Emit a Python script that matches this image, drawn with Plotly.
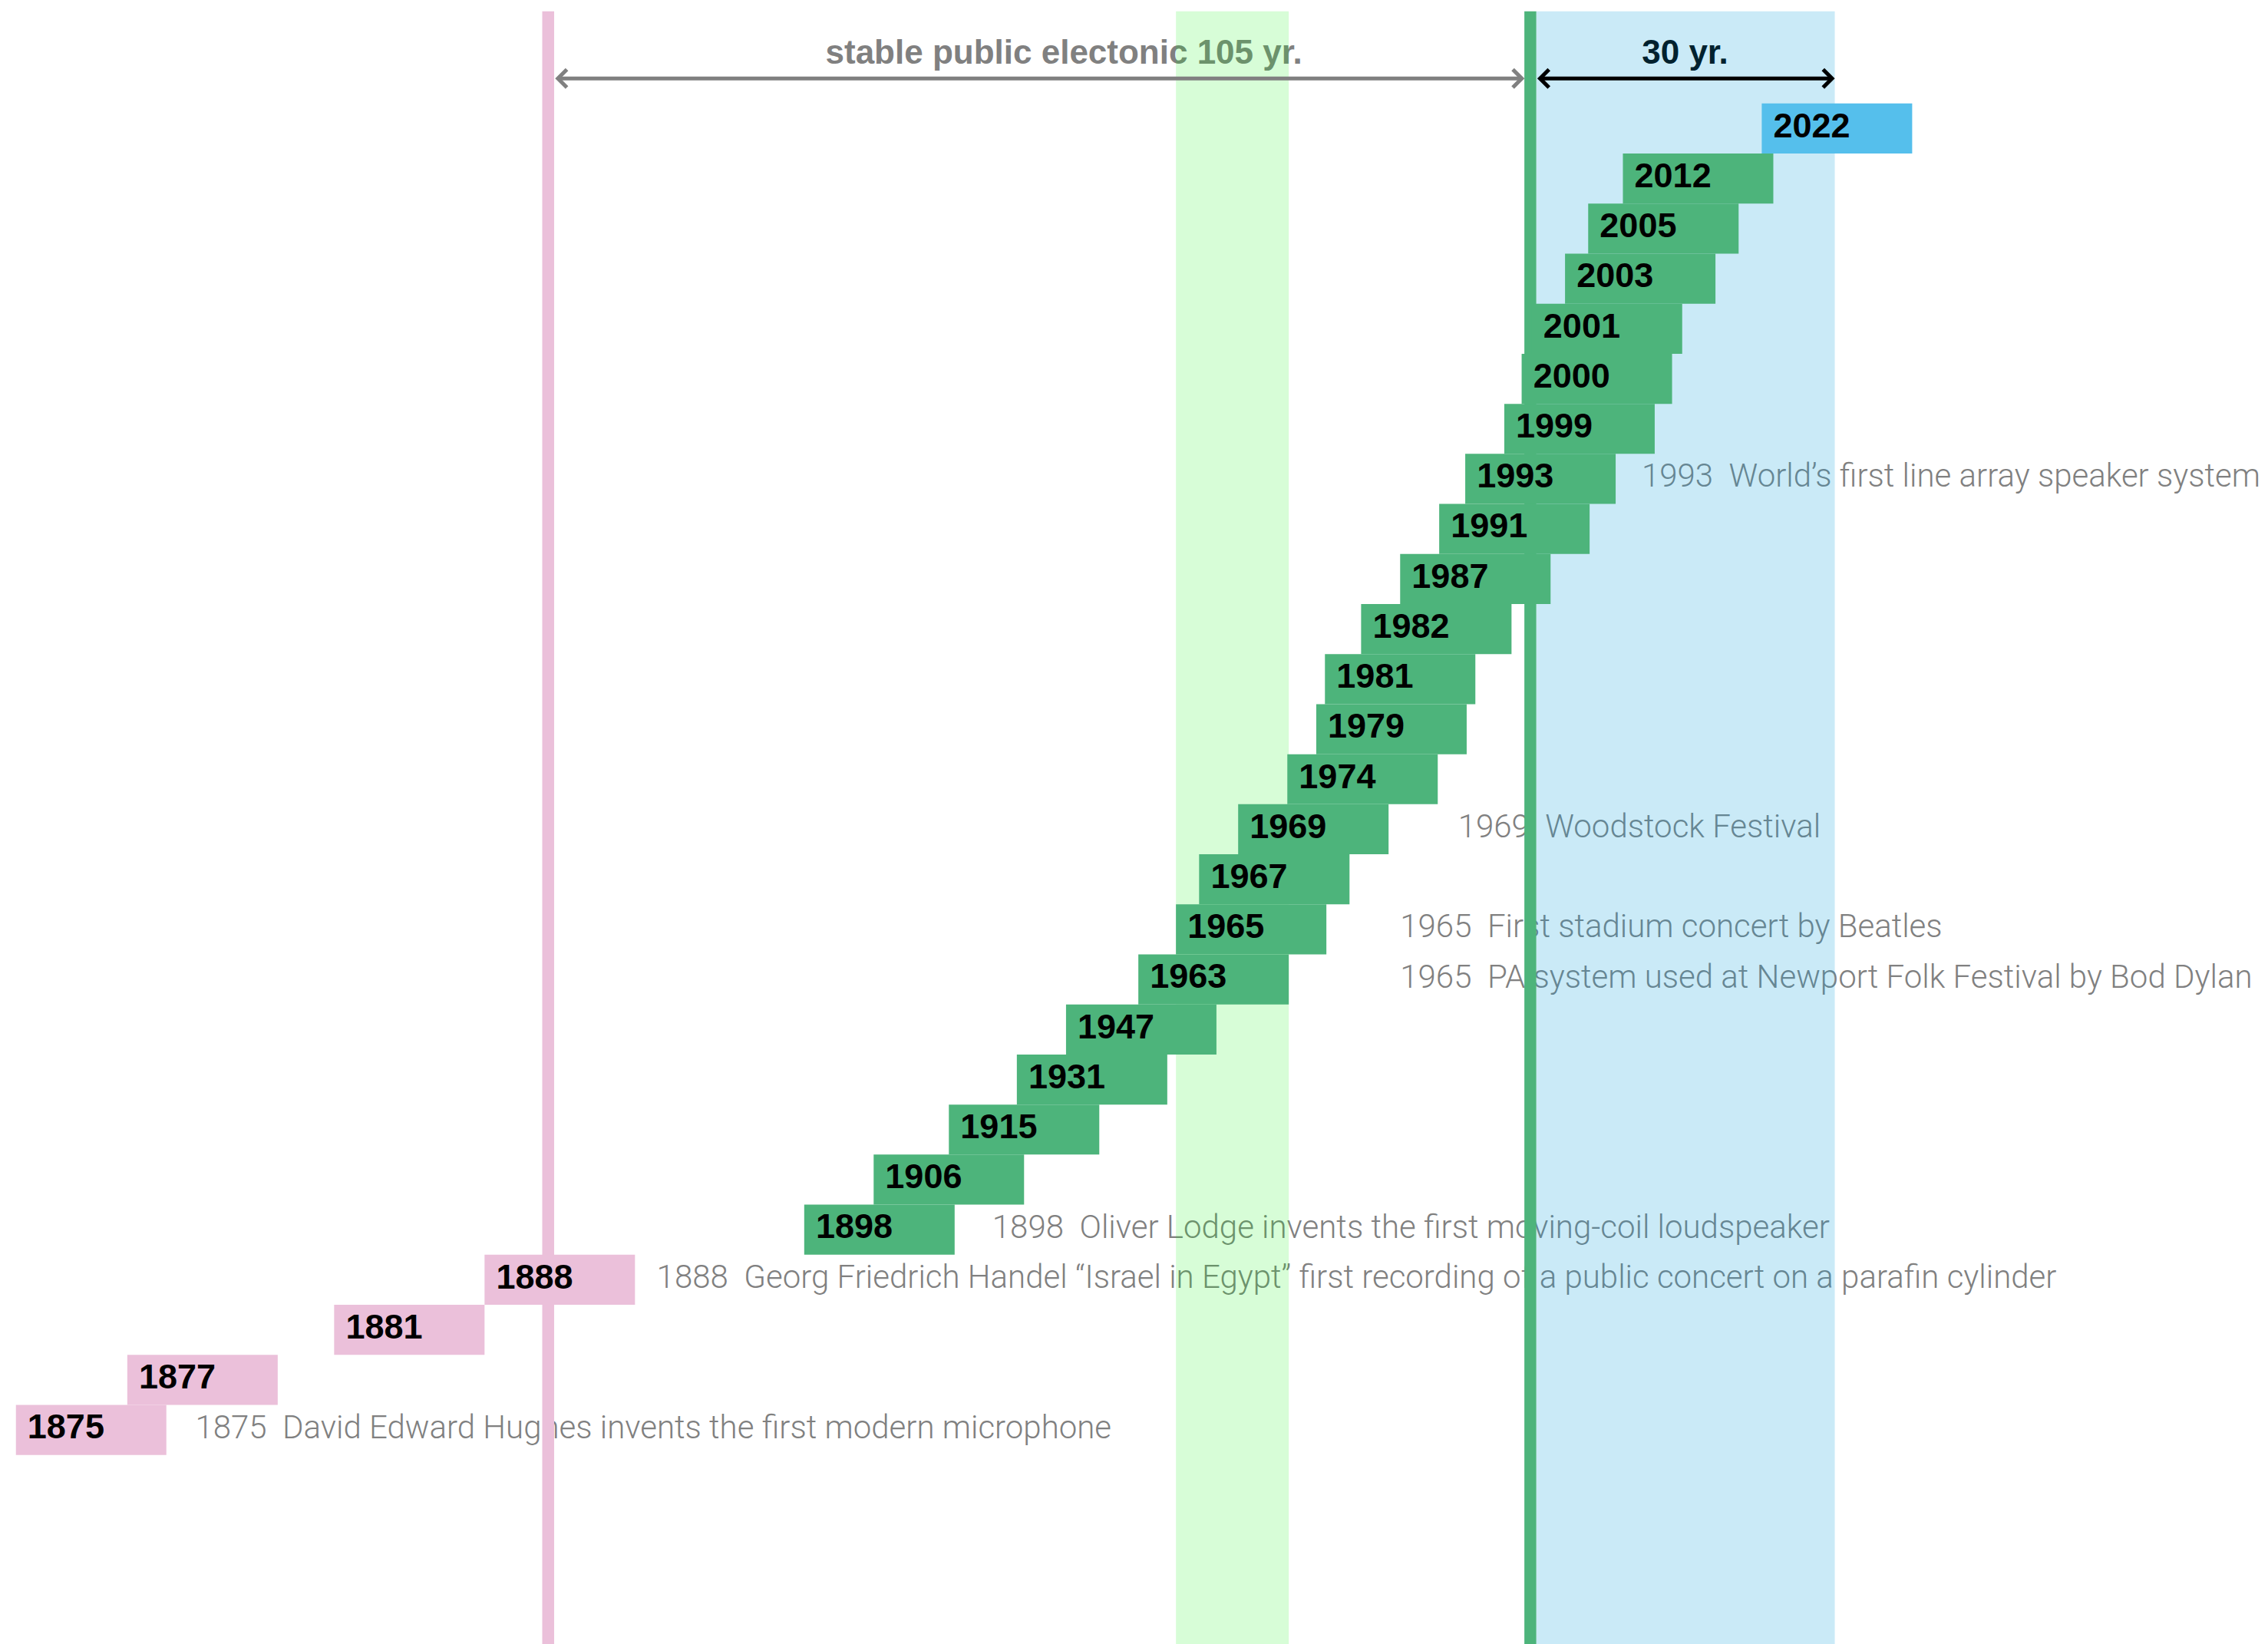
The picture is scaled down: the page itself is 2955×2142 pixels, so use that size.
import plotly.graph_objects as go

# milestones, bottom row first; bar_start is where each block sits on the (non-linear) time line
years = [1875, 1877, 1881, 1888, 1898, 1906, 1915, 1931, 1947, 1963, 1965, 1967, 1969, 1974,
         1979, 1981, 1982, 1987, 1991, 1993, 1999, 2000, 2001, 2003, 2005, 2012, 2022]
bar_start = [11, 88, 231, 335, 556, 604, 656, 703, 737, 787, 813, 829, 856, 890,
             910, 916, 941, 968, 995, 1013, 1040, 1052, 1059, 1082, 1098, 1122, 1218]
era = ["acoustic"] * 4 + ["electronic"] * 22 + ["today"]

# notes next to some rows
note_row = [1875, 1888, 1898, 1963, 1965, 1969, 1993]
note_x = [135, 454, 686, 968, 968, 1008, 1135]
note_text = [
    "1875\u00a0\u00a0David Edward Hughes invents the first modern microphone",
    "1888\u00a0\u00a0Georg Friedrich Handel \u201cIsrael in Egypt\u201d first recording of a public concert on a parafin cylinder",
    "1898\u00a0\u00a0Oliver Lodge invents the first moving-coil loudspeaker",
    "1965\u00a0\u00a0PA system used at Newport Folk Festival by Bod Dylan",
    "1965\u00a0\u00a0First stadium concert by Beatles",
    "1969\u00a0\u00a0Woodstock Festival",
    "1993\u00a0\u00a0World\u2019s first line array speaker system",
]

# reference marks on the same scale
line_x = [379, 1058]
band_from = [813, 1062]
band_to = [891, 1268.5]
span_from = [383, 1062]
span_to = [1054, 1268.5]
span_label = ["stable public electonic 105 yr.", "30 yr."]
span_label_x = [735.5, 1165]

BAR_LEN = 104
era_color = {"acoustic": "#EBC0DA", "electronic": "#4DB47B", "today": "#55BFEC"}
line_color = ["#EBC0DA", "#4DB47B"]
band_color = ["rgba(0,240,0,0.155)", "rgba(7,155,217,0.21)"]
span_color = ["#808080", "#000000"]

rows = list(range(len(years)))
top, bottom = 28.34, -4.7

fig = go.Figure()

# layer 1: notes and span labels (sit under the shading and lines)
fig.add_trace(go.Scatter(
    x=note_x, y=[years.index(r) for r in note_row], text=note_text,
    mode="text", textposition="middle right",
    textfont=dict(family="Roboto", size=42, color="#808080", weight=300),
    xaxis="x", yaxis="y", hoverinfo="skip"))
fig.add_trace(go.Scatter(
    x=span_label_x, y=[27.47] * 2, text=span_label,
    mode="text", textposition="middle center",
    textfont=dict(family="Liberation Sans", size=44, color=span_color, weight="bold"),
    xaxis="x", yaxis="y", hoverinfo="skip"))

# layer 2: shaded periods and marker lines
fig.add_trace(go.Bar(
    orientation="h", base=band_from, x=[b - a for a, b in zip(band_from, band_to)],
    y=[(top + bottom) / 2] * 2, width=[top - bottom] * 2,
    marker=dict(color=band_color, line_width=0),
    xaxis="x2", yaxis="y2", hoverinfo="skip"))
for lx, lc in zip(line_x, line_color):
    fig.add_trace(go.Scatter(
        x=[lx, lx], y=[top, bottom], mode="lines", line=dict(color=lc, width=15.5),
        xaxis="x2", yaxis="y2", hoverinfo="skip"))

# layer 3: the milestone blocks
fig.add_trace(go.Bar(
    orientation="h", base=bar_start, x=[BAR_LEN] * len(years), y=rows, width=1,
    marker=dict(color=[era_color[e] for e in era], line_width=0),
    xaxis="x3", yaxis="y3", hoverinfo="skip"))
fig.add_trace(go.Scatter(
    x=[s + 8 for s in bar_start], y=rows, text=[str(y) for y in years],
    mode="text", textposition="middle right",
    textfont=dict(family="Liberation Sans", size=45, color="#000000", weight="bold"),
    xaxis="x3", yaxis="y3", hoverinfo="skip"))

for a, b, c in zip(span_from, span_to, span_color):
    fig.add_annotation(
        x=b, y=27, ax=a, ay=27, xref="x", yref="y", axref="x", ayref="y",
        text="", showarrow=True, arrowside="end+start",
        arrowhead=4, startarrowhead=4, arrowsize=0.9, startarrowsize=0.9,
        arrowwidth=5, arrowcolor=c, standoff=0, startstandoff=0)

# the page body adds an 8px margin, so the ranges start a little in
xr = [4.245, 1572.245]
yr = [-4.40, 28.445]
hidden = dict(visible=False, showgrid=False, zeroline=False, fixedrange=True)
fig.update_layout(
    width=2955, height=2142,
    margin=dict(l=0, r=0, t=0, b=0),
    paper_bgcolor="white", plot_bgcolor="white",
    showlegend=False, barmode="overlay",
    xaxis=dict(range=xr, **hidden),
    yaxis=dict(range=yr, **hidden),
    xaxis2=dict(range=xr, overlaying="x", **hidden),
    yaxis2=dict(range=yr, overlaying="y", **hidden),
    xaxis3=dict(range=xr, overlaying="x", **hidden),
    yaxis3=dict(range=yr, overlaying="y", **hidden),
)

fig.write_html("out.html")
